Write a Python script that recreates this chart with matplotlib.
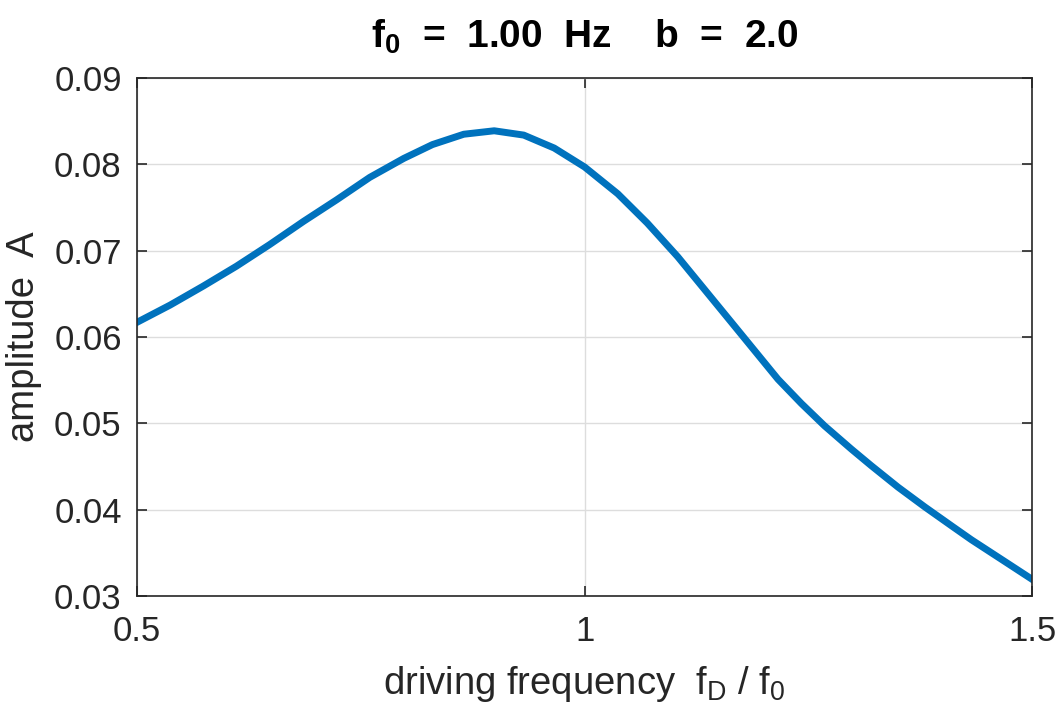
import numpy as np
import matplotlib
matplotlib.use("Agg")
import matplotlib.pyplot as plt

# values
f_ratio = [0.500, 0.537, 0.574, 0.611, 0.648, 0.686, 0.723, 0.760, 0.798, 0.830,
           0.865, 0.899, 0.932, 0.966, 1.000, 1.037, 1.070, 1.104, 1.134, 1.164,
           1.190, 1.216, 1.242, 1.268, 1.298, 1.320, 1.350, 1.380, 1.410, 1.432,
           1.469, 1.500]
amp = [0.0617, 0.0637, 0.0659, 0.0682, 0.0707, 0.0734, 0.0759, 0.0785, 0.0807, 0.0823,
       0.0835, 0.0839, 0.0834, 0.0819, 0.0797, 0.0766, 0.0732, 0.0693, 0.0655, 0.0617,
       0.0584, 0.0551, 0.0523, 0.0497, 0.0470, 0.0451, 0.0426, 0.0403, 0.0381, 0.0365,
       0.0340, 0.0319]
xticks = [0.5, 1, 1.5]
xtick_labels = ["0.5", "1", "1.5"]
yticks = [0.03, 0.04, 0.05, 0.06, 0.07, 0.08, 0.09]
ytick_labels = ["0.03", "0.04", "0.05", "0.06", "0.07", "0.08", "0.09"]

plt.rcParams["font.family"] = ["Liberation Sans", "DejaVu Sans"]
plt.rcParams["mathtext.fontset"] = "custom"
plt.rcParams["mathtext.rm"] = "Liberation Sans"
plt.rcParams["mathtext.bf"] = "Liberation Sans:bold"
plt.rcParams["mathtext.default"] = "regular"

fig = plt.figure(figsize=(10.62, 7.17), dpi=100)
ax = fig.add_axes([0.129, 0.169, 0.843, 0.722])
ax.plot(f_ratio, amp, color="#0072BD", linewidth=5, solid_joinstyle="round")

ax.set_xlim(0.5, 1.5)
ax.set_ylim(0.03, 0.09)
ax.set_xticks(xticks)
ax.set_xticklabels(xtick_labels)
ax.set_yticks(yticks)
ax.set_yticklabels(ytick_labels)
ax.grid(True, color="#dddddd", linewidth=1)
ax.tick_params(direction="in", length=7, width=1.2, labelsize=25, colors="#262626",
               top=True, right=True)
ax.tick_params(axis="x", pad=14)
ax.tick_params(axis="y", pad=11)
for s in ax.spines.values():
    s.set_color("#262626")
    s.set_linewidth(1.2)

ax.set_xlabel("driving frequency  f$_D$ / f$_0$", fontsize=27.5, color="#262626", labelpad=11)
ax.set_ylabel("amplitude  A", fontsize=27.5, color="#262626", labelpad=9)
ax.set_title(r"f$_\mathbf{0}$  =  1.00  Hz    b  =  2.0", fontsize=28, fontweight="bold",
             color="black", pad=22)

fig.savefig("out.png", dpi=100)
